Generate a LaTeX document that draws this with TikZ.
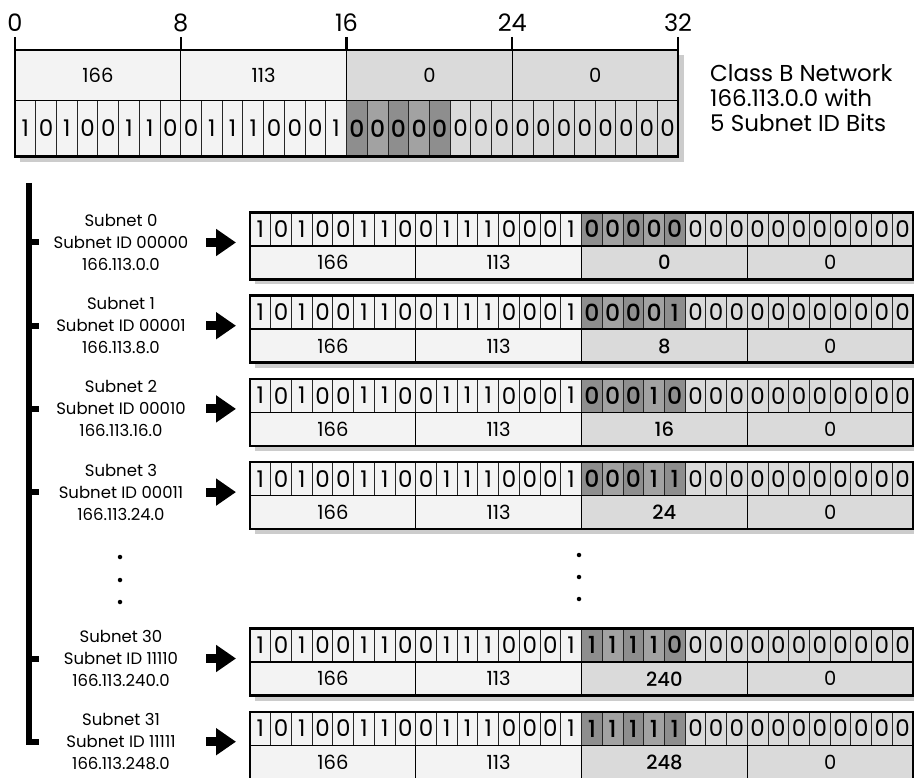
\documentclass[tikz,border=0pt]{standalone}
\usepackage{fontspec}
\setmainfont{Poppins}[BoldFont={Poppins Medium}]
\usetikzlibrary{arrows.meta}
\definecolor{lightfill}{HTML}{F3F3F3}
\definecolor{midfill}{HTML}{DADADA}
\definecolor{darkA}{HTML}{8E8E8E}
\definecolor{darkB}{HTML}{A2A2A2}
\definecolor{shadowc}{HTML}{CCCCCC}
\def\bw{20.72}
\tikzset{
  cellline/.style={line width=0.9pt, draw=black!85},
  byteline/.style={line width=1.3pt},
  outerline/.style={line width=2.4pt},
  bitnum/.style={inner sep=0pt, font=\fontsize{23}{23}\selectfont},
  bitbold/.style={inner sep=0pt, font=\fontsize{23.5}{23}\selectfont\bfseries},
  bytenum/.style={inner sep=0pt, font=\fontsize{19.5}{19.5}\selectfont},
  sublabel/.style={inner sep=0pt, align=center, font=\fontsize{16.5}{22}\selectfont},
  scalelbl/.style={inner sep=0pt, anchor=base, font=\fontsize{24}{24}\selectfont},
  titletext/.style={inner sep=0pt, anchor=north west, align=left, font=\fontsize{23}{25}\selectfont},
  ticksty/.style={line width=2.2pt},
  barsty/.style={line width=6pt, line join=miter},
  blockarrow/.style={line width=9pt, -{Triangle[length=20pt,width=26pt]}},
  dotsty/.style={circle, fill=black, inner sep=0pt, minimum size=4.5pt},
}
% #1 id, #2 x0, #3 ytop, #4 height, #5 subnet bits
\newcommand\bitcells[5]{%
  \fill[lightfill] (#2,#3) rectangle ++({16*\bw},#4);
  \fill[midfill] ({#2+16*\bw},#3) rectangle ++({16*\bw},#4);
  \foreach \k in {16,18,20} \fill[darkA] ({#2+\k*\bw},#3) rectangle ++(\bw,#4);
  \foreach \k in {17,19} \fill[darkB] ({#2+\k*\bw},#3) rectangle ++(\bw,#4);
  \foreach \k in {1,...,31} \draw[cellline] ({#2+\k*\bw},#3) -- ++(0,#4);
  \foreach \b [count=\k from 0] in {1,0,1,0,0,1,1,0,0,1,1,1,0,0,0,1}
    \node[bitnum] (#1-b\k) at ({#2+(\k+0.5)*\bw},{#3+#4/2}) {\b};
  \foreach \b [count=\k from 16] in {#5}
    \node[bitbold] (#1-b\k) at ({#2+(\k+0.5)*\bw},{#3+#4/2}) {\b};
  \foreach \k in {21,...,31}
    \node[bitnum] (#1-b\k) at ({#2+(\k+0.5)*\bw},{#3+#4/2}) {0};
}
% #1 id, #2 x0, #3 ytop, #4 height, #5 third byte
\newcommand\bytecells[5]{%
  \fill[lightfill] (#2,#3) rectangle ++({16*\bw},#4);
  \fill[midfill] ({#2+16*\bw},#3) rectangle ++({16*\bw},#4);
  \foreach \k in {8,16,24} \draw[byteline] ({#2+\k*\bw},#3) -- ++(0,#4);
  \node[bytenum] (#1-B0) at ({#2+4*\bw},{#3+#4/2}) {166};
  \node[bytenum] (#1-B1) at ({#2+12*\bw},{#3+#4/2}) {113};
  \node[bytenum] (#1-B2) at ({#2+20*\bw},{#3+#4/2}) {#5};
  \node[bytenum] (#1-B3) at ({#2+28*\bw},{#3+#4/2}) {0};
}
% #1 id, #2 ytop, #3 subnet bits, #4 third byte, #5 #6 #7 label lines
\newcommand\subnetrow[7]{%
  \fill[shadowc] (255,{#2+5}) rectangle ++({32*\bw},67);
  \bitcells{#1}{250}{#2}{33.5}{#3}
  \bytecells{#1}{250}{#2+33.5}{33.5}{\bfseries #4}
  \draw[line width=1.4pt] (250,{#2+33.5}) -- ++({32*\bw},0);
  \draw[outerline] (250,#2) rectangle ++({32*\bw},67);
  \node[sublabel] (#1-lab) at (121,{#2+30}) {#5\\#6\\#7};
  \coordinate (#1-as) at (206,{#2+30});
  \coordinate (#1-ae) at (236,{#2+30});
  \draw[blockarrow] (#1-as) -- (#1-ae);
  \coordinate (#1-tk) at (39,{#2+30});
  \draw[barsty] (#1-tk -| bartop) -- (#1-tk);
}
\begin{document}
\begin{tikzpicture}[x=1pt,y=-1pt]
\useasboundingbox (0,0) rectangle (914,778);
% top box
\fill[shadowc] (20,55) rectangle (684,162);
\bytecells{top}{15}{50}{50.5}{0}
\bitcells{top}{15}{100.5}{56}{0,0,0,0,0}
\draw[line width=1.4pt] (15,100.5) -- (678,100.5);
\draw[outerline] (15,50) rectangle (678,156.5);
\foreach \k in {0,8,16,24,32} {
  \coordinate (tk\k) at ({15+\k*\bw},37);
  \coordinate (tb\k) at ({15+\k*\bw},50);
  \draw[ticksty] (tk\k) -- (tb\k);
  \node[scalelbl] (sc\k) at ({15+\k*\bw},32) {\k};
}
\node[titletext] (title) at (710,64) {Class B Network\\166.113.0.0 with\\5 Subnet ID Bits};
% left bar
\coordinate (bartop) at (28.5,183);
\coordinate (barbot) at (28.5,741.7);
\coordinate (barend) at (39,741.7);
\draw[barsty] (bartop) -- (barbot) -- (barend);
% rows
\subnetrow{s0}{212.5}{0,0,0,0,0}{0}{Subnet 0}{Subnet ID 00000}{166.113.0.0}
\subnetrow{s1}{295.7}{0,0,0,0,1}{8}{Subnet 1}{Subnet ID 00001}{166.113.8.0}
\subnetrow{s2}{378.9}{0,0,0,1,0}{16}{Subnet 2}{Subnet ID 00010}{166.113.16.0}
\subnetrow{s3}{462.1}{0,0,0,1,1}{24}{Subnet 3}{Subnet ID 00011}{166.113.24.0}
\subnetrow{s30}{628.5}{1,1,1,1,0}{240}{Subnet 30}{Subnet ID 11110}{166.113.240.0}
\subnetrow{s31}{711.7}{1,1,1,1,1}{248}{Subnet 31}{Subnet ID 11111}{166.113.248.0}
% dots
\node[dotsty] (dl1) at (120,557) {};
\node[dotsty] (dl2) at (120,580) {};
\node[dotsty] (dl3) at (120,602) {};
\node[dotsty] (dm1) at (579,555) {};
\node[dotsty] (dm2) at (579,577) {};
\node[dotsty] (dm3) at (579,599) {};
\end{tikzpicture}
\end{document}
